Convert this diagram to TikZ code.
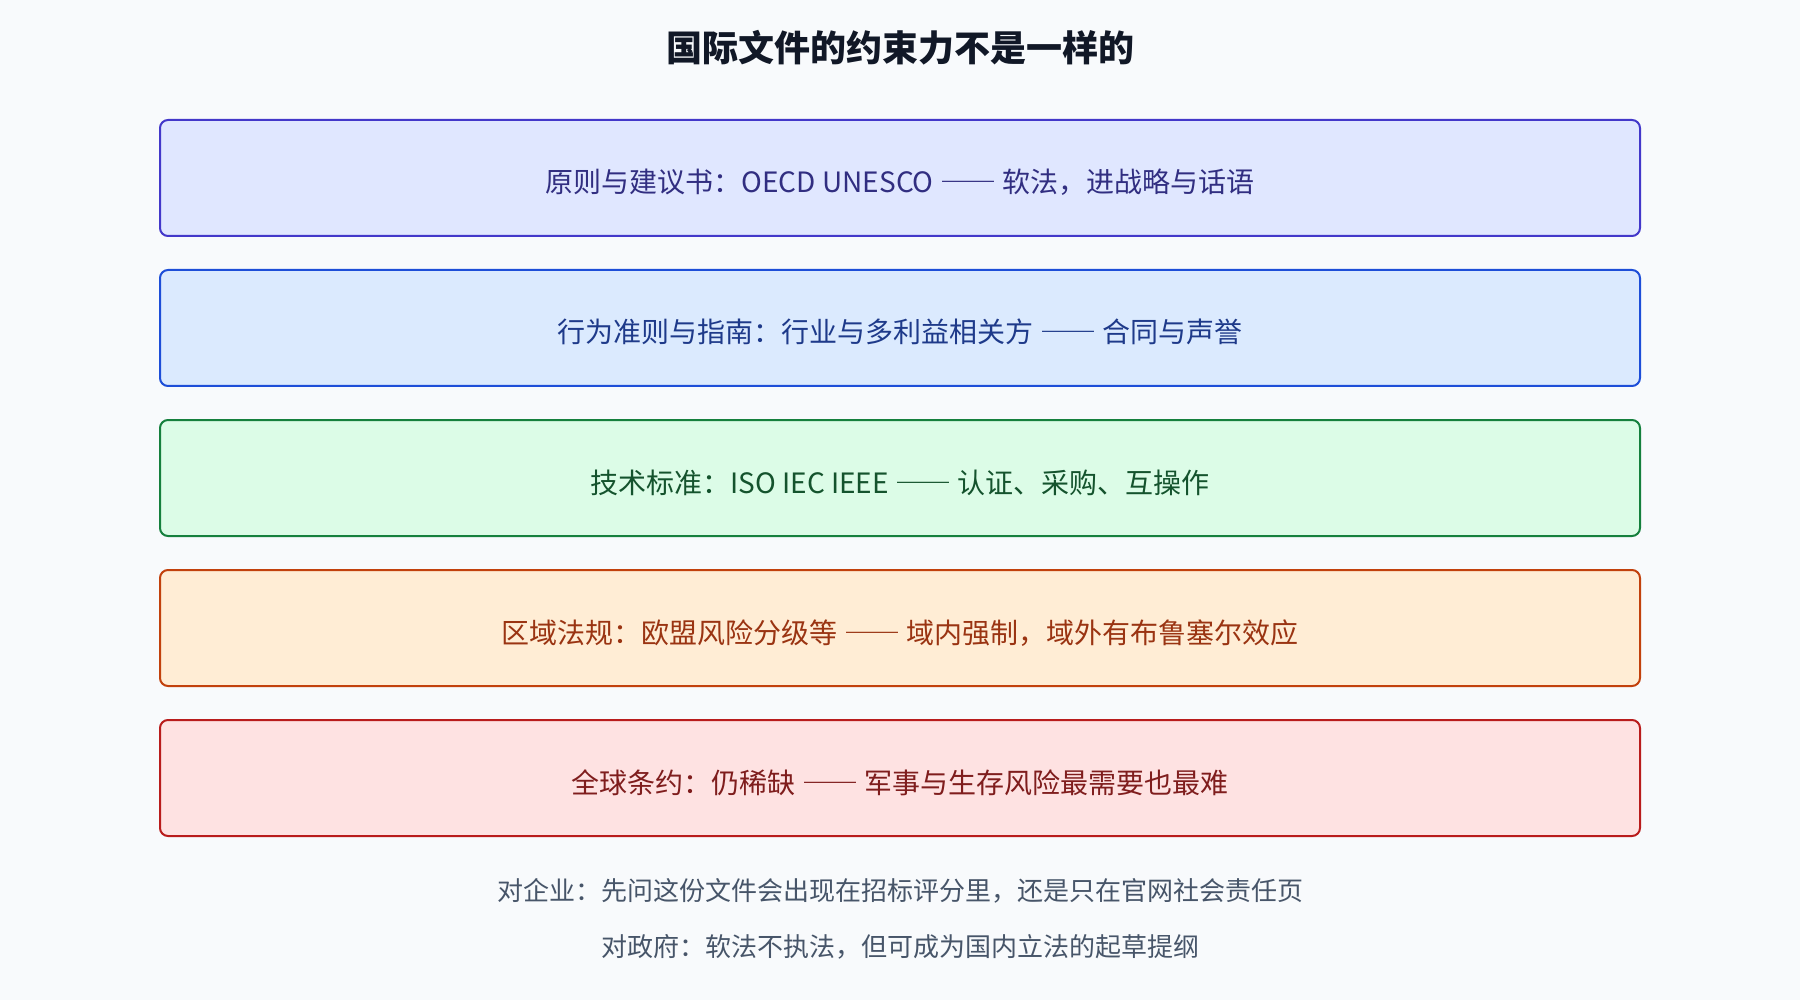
\documentclass[tikz,border=0pt]{standalone}
\usepackage{fontspec}
\setmainfont{Noto Sans CJK SC}
\newfontfamily\dashfont{Noto Sans CJK SC}[CharacterWidth=Full]
\newcommand{\longdash}{{\dashfont ——}}
\usepackage{xcolor}
\usetikzlibrary{positioning}

\definecolor{pagebg}{HTML}{F8FAFC}
\definecolor{titleink}{HTML}{111827}
\definecolor{noteink}{HTML}{475569}
\definecolor{softfill}{HTML}{E0E7FF}
\definecolor{softdraw}{HTML}{4338CA}
\definecolor{softink}{HTML}{312E81}
\definecolor{codefill}{HTML}{DBEAFE}
\definecolor{codedraw}{HTML}{1D4ED8}
\definecolor{codeink}{HTML}{1E3A8A}
\definecolor{stdfill}{HTML}{DCFCE7}
\definecolor{stddraw}{HTML}{15803D}
\definecolor{stdink}{HTML}{14532D}
\definecolor{regfill}{HTML}{FFEDD5}
\definecolor{regdraw}{HTML}{C2410C}
\definecolor{regink}{HTML}{9A3412}
\definecolor{treatyfill}{HTML}{FEE2E2}
\definecolor{treatydraw}{HTML}{B91C1C}
\definecolor{treatyink}{HTML}{7F1D1D}

\tikzset{
  layer/.style={
  rectangle,
  rounded corners=4pt,
  line width=1pt,
  minimum width=740pt,
  minimum height=58pt,
  text height=15pt,
  text depth=0pt,
  font=\fontsize{14}{17}\selectfont
  },
note/.style={
  text=noteink,
  font=\fontsize{13}{16}\selectfont
}
        }

\begin{document}
\begin{tikzpicture}[x=0.5pt, y=-0.5pt, node distance=16pt]

% Page
\fill[pagebg] (0,0) rectangle (1800,1000);
\useasboundingbox (0,0) rectangle (1800,1000);

% Title
\node (title) at (900,48) [text=titleink, font=\bfseries\fontsize{18}{22}\selectfont] {国际文件的约束力不是一样的};

% Layers
\node (layer1) at (900,178) [layer, draw=softdraw, fill=softfill, text=softink] {原则与建议书：OECD UNESCO \longdash{} 软法，进战略与话语};
\node (layer2) [layer, below=of layer1, draw=codedraw, fill=codefill, text=codeink] {行为准则与指南：行业与多利益相关方 \longdash{} 合同与声誉};
\node (layer3) [layer, below=of layer2, draw=stddraw, fill=stdfill, text=stdink] {技术标准：ISO IEC IEEE \longdash{} 认证、采购、互操作};
\node (layer4) [layer, below=of layer3, draw=regdraw, fill=regfill, text=regink] {区域法规：欧盟风险分级等 \longdash{} 域内强制，域外有布鲁塞尔效应};
\node (layer5) [layer, below=of layer4, draw=treatydraw, fill=treatyfill, text=treatyink] {全球条约：仍稀缺 \longdash{} 军事与生存风险最需要也最难};

% Notes
\node (note1) at (900,891) [note] {对企业：先问这份文件会出现在招标评分里，还是只在官网社会责任页};
\node (note2) at (900,947) [note] {对政府：软法不执法，但可成为国内立法的起草提纲};

\end{tikzpicture}
\end{document}
